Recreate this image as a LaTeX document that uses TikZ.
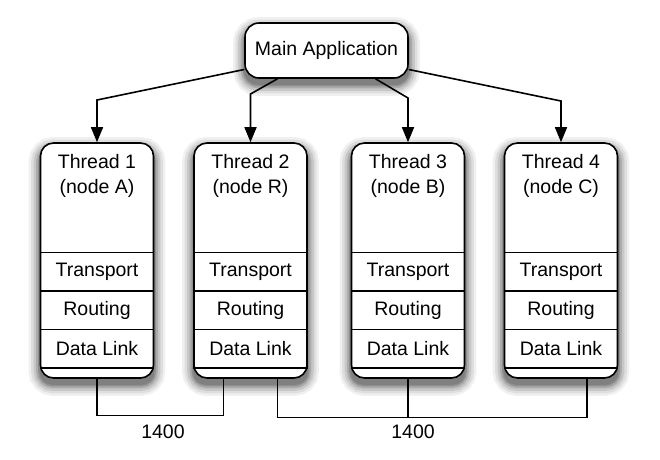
\documentclass[tikz,border=0pt]{standalone}
\usepackage{fontspec}
\setmainfont{Liberation Sans}
\usepackage{tikz}
\usetikzlibrary{positioning}
\usetikzlibrary{arrows.meta, backgrounds}

\tikzset{
    softshadow/.style={rounded corners=#1,
        preaction={draw=black!6, line width=22pt},
        preaction={draw=black!13, line width=17pt},
        preaction={draw=black!22, line width=12pt},
        preaction={draw=black!33, line width=7pt},
        preaction={draw=black!44, line width=3pt},
        fill=black!50},
    mainbox/.style={draw, fill=white, rounded corners=14pt, line width=1.6pt, minimum width=163pt, minimum height=55pt},
    threadbox/.style={draw, fill=white, rounded corners=13pt, line width=1.6pt, minimum width=113pt, minimum height=235pt},
    layer/.style={draw, line width=1.5pt, minimum width=113pt, minimum height=38.5pt, inner sep=0pt, outer sep=0pt},
    title/.style={align=center, inner sep=0pt},
    spawn/.style={-{Triangle[length=15pt, width=12pt]}, line width=1.6pt},
    link/.style={line width=1.3pt}
}

\begin{document}
\begin{tikzpicture}[x=1pt, y=-1pt, font=\fontsize{19.5}{25}\selectfont]
            \useasboundingbox (0,0) rectangle (660,459);
            \node[mainbox] at (326.5,50.5) (main) {Main Application};
            \node[threadbox] at (97,260.5) (t1) {};
            \node[threadbox] at (250.5,260.5) (t2) {};
            \node[threadbox] at (408,260.5) (t3) {};
            \node[threadbox] at (561,260.5) (t4) {};
            % thread 1
            \node[title, below=12pt of t1.north] (name1) {Thread 1\\(node A)};
            \node[layer, above=11pt of t1.south] (dl1) {Data Link};
            \node[layer, above=0pt of dl1] (rt1) {Routing};
            \node[layer, above=0pt of rt1] (tp1) {Transport};
            % thread 2
            \node[title, below=12pt of t2.north] (name2) {Thread 2\\(node R)};
            \node[layer, above=11pt of t2.south] (dl2) {Data Link};
            \node[layer, above=0pt of dl2] (rt2) {Routing};
            \node[layer, above=0pt of rt2] (tp2) {Transport};
            % thread 3
            \node[title, below=12pt of t3.north] (name3) {Thread 3\\(node B)};
            \node[layer, above=11pt of t3.south] (dl3) {Data Link};
            \node[layer, above=0pt of dl3] (rt3) {Routing};
            \node[layer, above=0pt of rt3] (tp3) {Transport};
            % thread 4
            \node[title, below=12pt of t4.north] (name4) {Thread 4\\(node C)};
            \node[layer, above=11pt of t4.south] (dl4) {Data Link};
            \node[layer, above=0pt of dl4] (rt4) {Routing};
            \node[layer, above=0pt of rt4] (tp4) {Transport};
            % shadows
            \begin{scope}[on background layer]
                \path[softshadow=14pt] ([yshift=-6pt]main.south west) rectangle ([yshift=-6pt]main.north east);
                \foreach \t in {t1,t2,t3,t4}
                    \path[softshadow=13pt] ([yshift=-6pt]\t.south west) rectangle ([yshift=-6pt]\t.north east);
            \end{scope}
            % spawning the threads
            \draw[spawn] (main.193) -- (t1.north |- 0,100) -- (t1.north);
            \draw[spawn] (main.210) -- (t2.north |- 0,94) -- (t2.north);
            \draw[spawn] (main.330) -- (t3.north |- 0,98) -- (t3.north);
            \draw[spawn] (main.347) -- (t4.north |- 0,101) -- (t4.north);
            % links
            \draw[link] (t1.south) -- ++(0,37) coordinate (bus1) -| ([xshift=-27pt]t2.south);
            \draw[link] ([xshift=27pt]t2.south) -- ++(0,39) coordinate (bus2) -| ([xshift=26pt]t4.south);
            \draw[link] (t3.south) -- (t3.south |- bus2);
            \node at (163,432) (len1) {1400};
            \node at (413,432) (len2) {1400};
        \end{tikzpicture}
\end{document}
